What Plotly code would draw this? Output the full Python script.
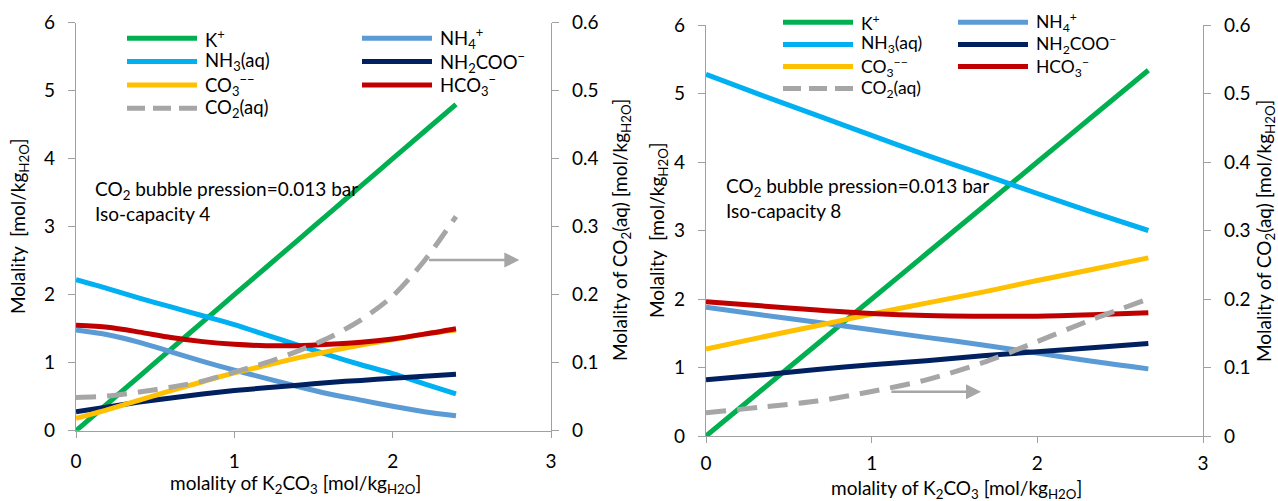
import plotly.graph_objects as go

W, H = 1278, 501
FONT = "Lato, 'Open Sans', sans-serif"
FS = 19
TXT = "#000000"
AXC = "#A0A0A0"

# ---------------- data: left chart (Iso-capacity 4) ----------------
x_left = [0, 0.2, 0.4, 0.6, 0.8, 1.0, 1.2, 1.4, 1.6, 1.8, 2.0, 2.2, 2.4]
k_left = [0, 0.4, 0.8, 1.2, 1.6, 2.0, 2.4, 2.8, 3.2, 3.6, 4.0, 4.4, 4.8]
nh4_left = [1.48, 1.41, 1.30, 1.16, 1.02, 0.89, 0.77, 0.65, 0.54, 0.45, 0.36, 0.28, 0.22]
nh3_left = [2.22, 2.09, 1.95, 1.82, 1.69, 1.56, 1.41, 1.26, 1.11, 0.97, 0.84, 0.69, 0.54]
nh2coo_left = [0.28, 0.35, 0.42, 0.48, 0.54, 0.59, 0.63, 0.67, 0.71, 0.74, 0.77, 0.80, 0.83]
co3_left = [0.18, 0.31, 0.45, 0.59, 0.72, 0.85, 0.96, 1.07, 1.17, 1.26, 1.34, 1.42, 1.48]
hco3_left = [1.55, 1.52, 1.45, 1.37, 1.31, 1.27, 1.25, 1.25, 1.27, 1.30, 1.35, 1.42, 1.50]
co2_left = [0.049, 0.051, 0.057, 0.064, 0.073, 0.086, 0.100, 0.117, 0.137, 0.163, 0.198, 0.250, 0.315]

# ---------------- data: right chart (Iso-capacity 8) ----------------
x_right = [0, 0.33, 0.67, 1.0, 1.33, 1.67, 2.0, 2.33, 2.67]
k_right = [0, 0.66, 1.34, 2.0, 2.66, 3.34, 4.0, 4.66, 5.34]
nh4_right = [1.88, 1.77, 1.66, 1.55, 1.44, 1.33, 1.21, 1.09, 0.98]
nh3_right = [5.28, 4.98, 4.68, 4.39, 4.10, 3.82, 3.54, 3.27, 3.00]
nh2coo_right = [0.82, 0.89, 0.97, 1.04, 1.10, 1.17, 1.23, 1.29, 1.35]
co3_right = [1.27, 1.44, 1.61, 1.78, 1.94, 2.10, 2.27, 2.43, 2.60]
hco3_right = [1.96, 1.90, 1.84, 1.79, 1.76, 1.75, 1.75, 1.77, 1.80]
co2_right = [0.034, 0.042, 0.051, 0.065, 0.082, 0.107, 0.138, 0.170, 0.200]

# series labels / colours (legend order, row-wise in 2 columns)
names = ["K<sup>+</sup>", "NH<sub>4</sub><sup>+</sup>", "NH<sub>3</sub>(aq)",
         "NH<sub>2</sub>COO<sup>−</sup>", "CO<sub>3</sub><sup>−−</sup>",
         "HCO<sub>3</sub><sup>−</sup>", "CO<sub>2</sub>(aq)"]
colors = ["#00B050", "#5B9BD5", "#00B0F0", "#002060", "#FFC000", "#C00000", "#A6A6A6"]

x_ticks = [0, 1, 2, 3]
y_ticks = [0, 1, 2, 3, 4, 5, 6]
y2_ticks = [0, 0.1, 0.2, 0.3, 0.4, 0.5, 0.6]

note_left = "CO<sub>2</sub> bubble pression=0.013 bar<br>Iso-capacity 4"
note_right = "CO<sub>2</sub> bubble pression=0.013 bar<br>Iso-capacity 8"
ytitle = "Molality  [mol/kg<sub>H2O</sub>]"
y2title = "Molality of CO<sub>2</sub>(aq) [mol/kg<sub>H2O</sub>]"
xtitle = "molality of K<sub>2</sub>CO<sub>3</sub> [mol/kg<sub>H2O</sub>]"


def px(x):
    return x / W


def py(y):
    return 1 - y / H


fig = go.Figure()

charts = [
    dict(x=x_left, ys=[k_left, nh4_left, nh3_left, nh2coo_left, co3_left, hco3_left, co2_left],
         xa="x", ya="y", ya2="y2"),
    dict(x=x_right, ys=[k_right, nh4_right, nh3_right, nh2coo_right, co3_right, hco3_right, co2_right],
         xa="x2", ya="y3", ya2="y4"),
]

for ch in charts:
    for i, (nm, col, yv) in enumerate(zip(names, colors, ch["ys"])):
        is_co2 = i == 6
        fig.add_trace(go.Scatter(
            x=ch["x"], y=yv, name=nm, mode="lines",
            xaxis=ch["xa"], yaxis=ch["ya2"] if is_co2 else ch["ya"],
            line=dict(color=col, width=5, shape="spline", smoothing=0.8,
                      dash="20px,11px" if is_co2 else "solid"),
            showlegend=False, hoverinfo="skip"))

axis_common = dict(showline=True, linecolor=AXC, linewidth=1.3, ticks="outside",
                   tickcolor=AXC, tickwidth=1.3, showgrid=False, zeroline=False,
                   tickfont=dict(family=FONT, size=FS, color=TXT), automargin=False)

fig.update_layout(
    width=W, height=H, margin=dict(l=0, r=0, t=0, b=0),
    paper_bgcolor="white", plot_bgcolor="white", showlegend=False,
    font=dict(family=FONT, size=FS, color=TXT),
    xaxis=dict(domain=[px(76), px(551)], range=[0, 3], tickvals=x_ticks, ticklen=6, anchor="y",
               ticklabelstandoff=7, **axis_common),
    yaxis=dict(domain=[py(430.7), py(22.7)], range=[0, 6], tickvals=y_ticks, ticklen=7, anchor="x",
               ticklabelstandoff=9, **axis_common),
    yaxis2=dict(range=[0, 0.6], tickvals=y2_ticks, ticklen=7, overlaying="y", side="right", anchor="x",
                ticklabelstandoff=9, **axis_common),
    xaxis2=dict(domain=[px(706), px(1203)], range=[0, 3], tickvals=x_ticks, ticklen=6, anchor="y3",
                ticklabelstandoff=4, **axis_common),
    yaxis3=dict(domain=[py(436), py(25)], range=[0, 6], tickvals=y_ticks, ticklen=7, anchor="x2",
                ticklabelstandoff=9, **axis_common),
    yaxis4=dict(range=[0, 0.6], tickvals=y2_ticks, ticklen=7, overlaying="y3", side="right", anchor="x2",
                ticklabelstandoff=9, **axis_common),
)

# ---------------- legends (drawn manually, 2 columns) ----------------
legend_layout = [
    dict(x0=127, row0=38.3, pitch=23.3, colgap=235, fs=18.5),
    dict(x0=783, row0=22.3, pitch=22.1, colgap=175, fs=17.5),
]
for lg in legend_layout:
    for i, (nm, col) in enumerate(zip(names, colors)):
        r, c = divmod(i, 2)
        lx = lg["x0"] + c * lg["colgap"]
        ly = lg["row0"] + r * lg["pitch"]
        fig.add_shape(type="line", xref="paper", yref="paper",
                      x0=px(lx), x1=px(lx + 70), y0=py(ly), y1=py(ly),
                      line=dict(color=col, width=5, dash="18px,8px" if i == 6 else "solid"))
        fig.add_annotation(xref="paper", yref="paper", x=px(lx + 77), y=py(ly),
                           text=nm, showarrow=False, xanchor="left", yanchor="middle",
                           borderpad=0, font=dict(family=FONT, size=lg["fs"], color=TXT))

# ---------------- notes ----------------
for note, nx, ny in [(note_left, 92.7, 201), (note_right, 724, 198.5)]:
    fig.add_annotation(xref="paper", yref="paper", x=px(nx), y=py(ny),
                       text=note, showarrow=False, xanchor="left", yanchor="middle", align="left",
                       font=dict(family=FONT, size=FS, color=TXT))

# ---------------- arrows toward the secondary axis ----------------
for xr, yr, xt, xh, yv in [("x", "y", 2.22, 2.80, 2.51), ("x2", "y3", 1.11, 1.66, 0.645)]:
    fig.add_annotation(xref=xr, yref=yr, x=xh, y=yv, ax=xt, ay=yv, axref=xr, ayref=yr,
                       text="", showarrow=True, arrowhead=2, arrowsize=1.2, arrowwidth=2.5,
                       arrowcolor="#A6A6A6", standoff=0, startstandoff=0)

# ---------------- axis titles ----------------
titles = [
    (ytitle, 19, 226, -90), (y2title, 621, 230, -90), (xtitle, 295, 484, 0),
    (ytitle, 658, 230, -90), (y2title, 1265, 231, -90), (xtitle, 956, 488.5, 0),
]
for t, tx, ty, ang in titles:
    fig.add_annotation(xref="paper", yref="paper", x=px(tx), y=py(ty), text=t,
                       showarrow=False, xanchor="center", yanchor="middle", textangle=ang,
                       borderpad=0, font=dict(family=FONT, size=FS, color=TXT))

fig.write_html("out.html")
